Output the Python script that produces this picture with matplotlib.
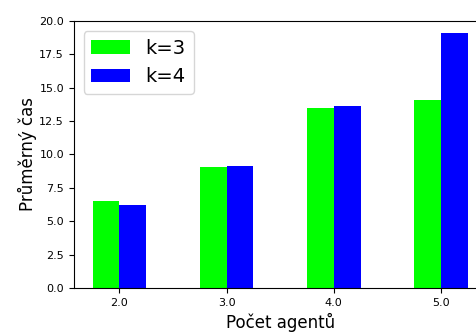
import matplotlib
matplotlib.use("Agg")
import matplotlib.pyplot as plt
import numpy as np

# Average time per number of agents, for two values of k
agents = [2.0, 3.0, 4.0, 5.0]
time_k3 = [6.52, 9.09, 13.48, 14.08]
time_k4 = [6.19, 9.16, 13.63, 19.12]
series_labels = ["k=3", "k=4"]
yticks = [0.0, 2.5, 5.0, 7.5, 10.0, 12.5, 15.0, 17.5, 20.0]

width = 0.25
x = np.array(agents)

fig = plt.figure(figsize=(4.76, 3.34), dpi=100)
ax = fig.add_axes([0.155, 0.138, 0.867, 0.799])

ax.bar(x - width / 2, time_k3, width, color="#00ff00", label=series_labels[0])
ax.bar(x + width / 2, time_k4, width, color="#0000ff", label=series_labels[1])

ax.set_xticks(x)
ax.set_xticklabels([f"{a:.1f}" for a in agents])
ax.set_yticks(yticks)
ax.set_ylim(0, 20)
ax.tick_params(labelsize=8)

ax.set_xlabel("Počet agentů", fontsize=12)
ax.set_ylabel("Průměrný čas", fontsize=12, labelpad=1.5)
ax.legend(fontsize=14, loc="upper left")

fig.savefig("out.png", dpi=100)
